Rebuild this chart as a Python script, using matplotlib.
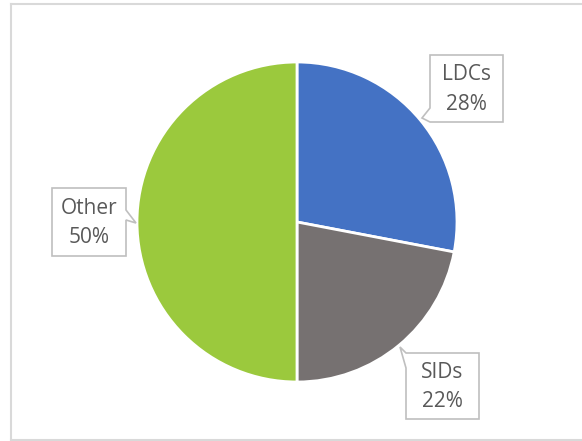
import numpy as np
import matplotlib.pyplot as plt
from matplotlib.patches import Polygon
from matplotlib.lines import Line2D

# data
labels = ["LDCs", "SIDs", "Other"]
shares = [28, 22, 50]
colors = ["#4472C4", "#767171", "#9BC93D"]

W, H = 582, 441
fig = plt.figure(figsize=(W / 100, H / 100), dpi=100)

# pie centre and radius in pixels
cx, cy, r = 297, 222, 160
ax = fig.add_axes([(cx - r) / W, (H - cy - r) / H, 2 * r / W, 2 * r / H])
ax.pie(shares, colors=colors, startangle=90, counterclock=False,
       wedgeprops=dict(edgecolor="white", linewidth=2))
ax.set_xlim(-1, 1)
ax.set_ylim(-1, 1)
ax.axis("off")

# overlay in pixel coords for callouts and the chart border
ov = fig.add_axes([0, 0, 1, 1], zorder=5)
ov.set_xlim(0, W)
ov.set_ylim(H, 0)
ov.axis("off")
ov.patch.set_alpha(0)

border = "#D9D9D9"
ov.add_line(Line2D([11, 11], [4, H], color=border, lw=1.5))
ov.add_line(Line2D([11, W], [4, 4], color=border, lw=1.5))
ov.add_line(Line2D([11, W], [439.5, 439.5], color=border, lw=1.5))

# callout outlines with pointer
boxes = {
    "LDCs": [(430, 55), (503, 55), (503, 122), (430, 122), (422, 118),
             (430, 108)],
    "SIDs": [(406, 353), (479, 353), (479, 419), (406, 419), (406, 368),
             (400, 347)],
    "Other": [(52, 188), (126, 188), (126, 210), (136, 223), (126, 220),
              (126, 256), (52, 256)],
}
centres = {"LDCs": (466.5, 89.5), "SIDs": (442.5, 387), "Other": (89, 223)}

for lab, val in zip(labels, shares):
    ov.add_patch(Polygon(boxes[lab], closed=True, facecolor="white",
                         edgecolor="#BFBFBF", lw=1.2))
    x, y = centres[lab]
    ov.text(x, y, f"{lab}\n{val}%", ha="center", va="center",
            fontsize=15, color="#595959", family="Open Sans",
            linespacing=1.55)

fig.savefig("out.png", dpi=100)
